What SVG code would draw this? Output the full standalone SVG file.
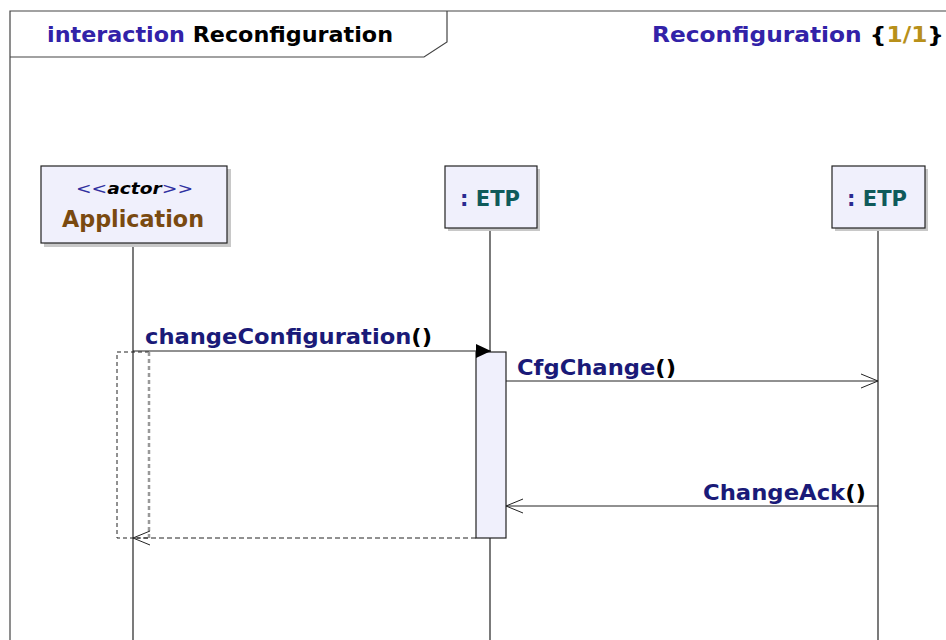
<svg xmlns="http://www.w3.org/2000/svg" width="946" height="640" viewBox="0 0 946 640">
<style>
.t{font-family:"DejaVu Sans","Verdana",sans-serif;font-weight:bold;}
.box{fill:#f0f0fc;stroke:#222;stroke-width:1.2;}
.shadow{fill:#c8c8c8;}
.life{stroke:#222;stroke-width:1.2;fill:none;}
.msg{stroke:#222;stroke-width:1;fill:none;}
.navy{fill:#1a1a78;}
.blk{fill:#000;}
</style>
<defs>
<marker id="filled" markerWidth="16" markerHeight="14" refX="15" refY="7" orient="auto" markerUnits="userSpaceOnUse">
<path d="M0,0 L15,7 L0,14 Z" fill="#000"/>
</marker>
<marker id="open" markerWidth="18" markerHeight="16" refX="17" refY="8" orient="auto" markerUnits="userSpaceOnUse">
<path d="M0,1 L17,8 L0,15" fill="none" stroke="#222" stroke-width="1"/>
</marker>
</defs>
<rect width="946" height="640" fill="#fff"/>
<g id="frame">
<path d="M10,640 L10,11 L946,11" fill="none" stroke="#444" stroke-width="1.2"/>
<path d="M10,57 L424,57 L447,42 L447,11" fill="none" stroke="#444" stroke-width="1.2"/>
<text class="t" x="47" y="42" font-size="20.5" textLength="346" lengthAdjust="spacingAndGlyphs"><tspan fill="#3222a8">interaction</tspan><tspan fill="#000"> Reconfiguration</tspan></text>
<text class="t" x="652" y="42" font-size="20.5" textLength="292" lengthAdjust="spacingAndGlyphs"><tspan fill="#3222a8">Reconfiguration </tspan><tspan fill="#000">{</tspan><tspan fill="#b8901a">1/1</tspan><tspan fill="#000">}</tspan></text>
</g>
<g id="lifelines">
<line class="life" x1="133" y1="243" x2="133" y2="640"/>
<line class="life" x1="490" y1="228" x2="490" y2="640"/>
<line class="life" x1="878" y1="228" x2="878" y2="640"/>
</g>
<g id="application">
<rect class="shadow" x="44" y="169" width="187" height="78"/>
<rect class="box" x="41" y="166" width="186" height="77"/>
<text x="76" y="194" font-size="16" textLength="117" lengthAdjust="spacingAndGlyphs" font-family="'DejaVu Sans',Verdana,sans-serif" font-style="italic" fill="#3030a0">&lt;&lt;<tspan fill="#000" font-weight="bold">actor</tspan>&gt;&gt;</text>
<text class="t" x="62" y="227" font-size="23" textLength="142" lengthAdjust="spacingAndGlyphs" fill="#7a4a10">Application</text>
</g>
<g id="etp1">
<rect class="shadow" x="448" y="169" width="92" height="62"/>
<rect class="box" x="445" y="166" width="92" height="62"/>
<text class="t" x="460" y="206" font-size="22" textLength="60" lengthAdjust="spacingAndGlyphs"><tspan fill="#2a2a90">: </tspan><tspan fill="#0f5a5a">ETP</tspan></text>
</g>
<g id="etp2">
<rect class="shadow" x="835" y="169" width="93" height="62"/>
<rect class="box" x="832" y="166" width="93" height="62"/>
<text class="t" x="847" y="206" font-size="22" textLength="60" lengthAdjust="spacingAndGlyphs"><tspan fill="#2a2a90">: </tspan><tspan fill="#0f5a5a">ETP</tspan></text>
</g>
<g id="app-activation">
<path d="M149,352 L117,352 L117,538 L149,538" fill="none" stroke="#222" stroke-width="1" stroke-dasharray="4,3"/>
<line x1="149" y1="352" x2="149" y2="538" stroke="#999" stroke-width="2.5" stroke-dasharray="4,3"/>
</g>
<g id="etp-activation">
<rect class="box" x="476" y="352" width="30" height="186"/>
</g>
<g id="connectors">
<line class="msg" x1="133" y1="351" x2="491" y2="351" marker-end="url(#filled)"/>
<text class="t" x="145" y="344" font-size="21" textLength="287" lengthAdjust="spacingAndGlyphs"><tspan class="navy">changeConfiguration</tspan><tspan class="blk">()</tspan></text>
<line class="msg" x1="506" y1="381" x2="878" y2="381" marker-end="url(#open)"/>
<text class="t" x="517" y="375" font-size="21" textLength="159" lengthAdjust="spacingAndGlyphs"><tspan class="navy">CfgChange</tspan><tspan class="blk">()</tspan></text>
<line class="msg" x1="878" y1="506" x2="506" y2="506" marker-end="url(#open)"/>
<text class="t" x="703" y="500" font-size="21" textLength="163" lengthAdjust="spacingAndGlyphs"><tspan class="navy">ChangeAck</tspan><tspan class="blk">()</tspan></text>
<line class="msg" x1="476" y1="538" x2="133" y2="538" stroke-dasharray="5,3" marker-end="url(#open)"/>
</g>
</svg>
